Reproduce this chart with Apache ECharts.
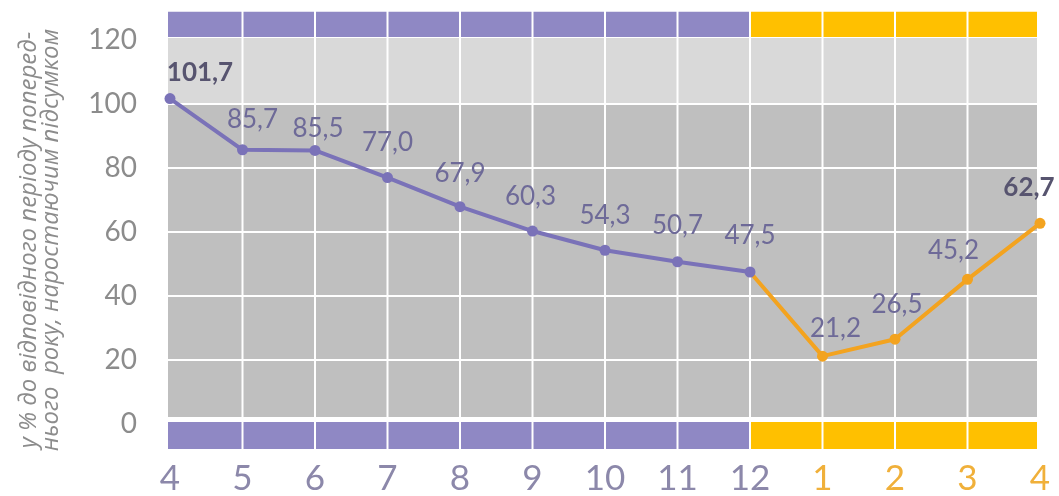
<!DOCTYPE html>
<html>
<head>
<meta charset="utf-8">
<script src="https://cdn.jsdelivr.net/npm/echarts@6/dist/echarts.min.js"></script>
<style>
    html, body {margin: 0; padding: 0; background: #fff;}
    #chart {width: 1059px; height: 496px;}
</style>
</head>
<body>
<div id="chart"></div>
<script>
// months: April of last year .. April of this year
var months = ['4', '5', '6', '7', '8', '9', '10', '11', '12', '1', '2', '3', '4'];
var prevYear = [101.7, 85.7, 85.5, 77.0, 67.9, 60.3, 54.3, 50.7, 47.5, null, null, null, null];
var curYear = [null, null, null, null, null, null, null, null, 47.5, 21.2, 26.5, 45.2, 62.7];
var yTicks = [0, 20, 40, 60, 80, 100, 120];
var splitAt = 8; // month 12, the orange part starts here

// layout of the grey bands and the coloured strips (in axis units)
var bandEdges = [1.9, 20, 40, 60, 80, 100, 120.9];
var topStrip = [120.9, 128.8], bottomStrip = [-7.8, 0.6];
var labelShift = [[30, 9], [10, 4], [3, 13], [0, 0], [0, 1], [-2, 0], [0, 0], [0, -2], [0, -2], [13, 7], [2, 0], [-14, 6], [-11, -1]];

var PURPLE = '#8f88c4', YELLOW = '#ffc000', LINE_P = '#7a72b8', LINE_O = '#f3a31f';

var chart = echarts.init(document.getElementById('chart'));

function toItems(arr, skipFirst) {
    return arr.map(function (v, i) {
        if (v == null) return null;
        var it = {value: v, label: {offset: labelShift[i]}};
        if (i === 0 || i === months.length - 1) {
            it.label.fontWeight = 'bold';
            it.label.color = '#57546f';
        }
        if (skipFirst && i === splitAt) {
            it.symbol = 'none';
            it.label = {show: false};
        }
        return it;
    });
}

function renderCells(params, api) {
    var i = api.value(0);
    var x0 = api.coord([i, 0])[0], x1 = api.coord([i + 1, 0])[0];
    var l = x0 + (i === 0 ? -2 : 1);
    var r = x1 - (i === months.length - 2 ? 3 : 1);
    var kids = [];
    var rect = function (v0, v1, color, gap) {
        var yt = api.coord([i, v1])[1], yb = api.coord([i, v0])[1];
        kids.push({
            type: 'rect',
            shape: {x: l, y: yt + gap, width: r - l, height: yb - yt - gap * 2},
            style: {fill: color}
        });
    };
    var strip = i < splitAt ? PURPLE : YELLOW;
    rect(topStrip[0], topStrip[1], strip, 0);
    rect(bottomStrip[0], bottomStrip[1], strip, 0);
    for (var k = 0; k < bandEdges.length - 1; k++) {
        rect(bandEdges[k], bandEdges[k + 1], bandEdges[k] >= 100 ? '#d9d9d9' : '#bfbfbf', 1);
    }
    return {type: 'group', children: kids};
}

var cells = [];
for (var c = 0; c < months.length - 1; c++) cells.push([c, 0]);

var labelStyle = {
    show: true,
    position: 'top',
    distance: 16,
    fontFamily: 'Lato',
    fontSize: 26,
    color: '#6e6a98',
    formatter: function (p) {
        return p.value.toFixed(1).replace('.', ',');
    }
};

chart.setOption({
    animation: false,
    grid: {left: 170, right: 19, top: 11.2, bottom: 46.4, outerBoundsMode: 'none'},
    graphic: [{
        type: 'text',
        x: 40,
        y: 240,
        rotation: Math.PI / 2,
        style: {
            text: 'у % до відповідного періоду попеpед-\nнього  року, наростаючим підсумком',
            font: 'italic 24px "Open Sans"',
            fill: '#8c8c8c',
            align: 'center',
            verticalAlign: 'middle',
            lineHeight: 22
        }
    }],
    xAxis: {
        type: 'category',
        data: months,
        boundaryGap: false,
        axisLine: {show: false},
        axisTick: {show: false},
        axisLabel: {
            interval: 0,
            margin: 12,
            fontFamily: 'Lato',
            fontSize: 35,
            color: function (v, idx) {
                return idx > splitAt ? '#f0b03a' : '#8c88aa';
            }
        }
    },
    yAxis: {
        type: 'value',
        min: -8,
        max: 129,
        axisLine: {show: false},
        axisTick: {show: false},
        splitLine: {show: false},
        axisLabel: {
            customValues: yTicks,
            margin: 33,
            fontFamily: 'Lato',
            fontSize: 28,
            color: '#8c8c8c'
        }
    },
    series: [{
        type: 'custom',
        renderItem: renderCells,
        data: cells,
        encode: {x: 0, y: 1},
        silent: true,
        z: 1
    }, {
        type: 'line',
        data: toItems(curYear, true),
        symbol: 'circle',
        symbolSize: 11,
        lineStyle: {width: 4, color: LINE_O},
        itemStyle: {color: LINE_O},
        label: labelStyle,
        z: 3
    }, {
        type: 'line',
        data: toItems(prevYear, false),
        symbol: 'circle',
        symbolSize: 11,
        lineStyle: {width: 4, color: LINE_P},
        itemStyle: {color: LINE_P},
        label: labelStyle,
        z: 4
    }]
});
</script>
</body>
</html>
